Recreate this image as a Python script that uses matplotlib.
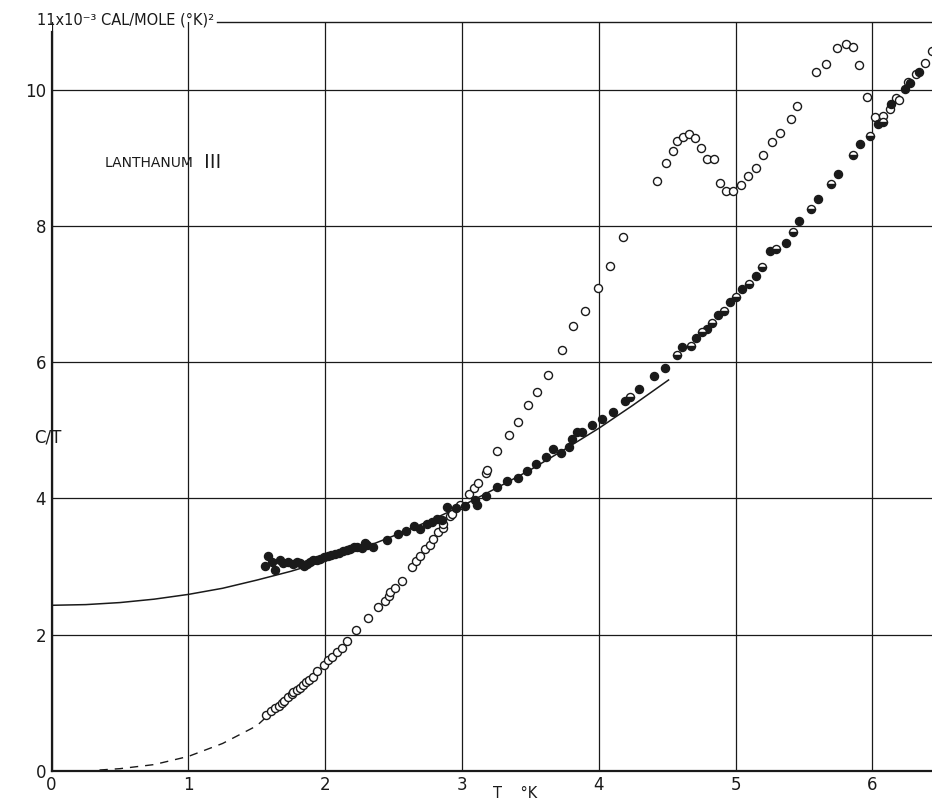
import matplotlib
matplotlib.use("Agg")
import matplotlib.pyplot as plt

# ---- data ----
open_T = [1.566, 1.602, 1.634, 1.659, 1.683, 1.700, 1.731, 1.755, 1.768, 1.792, 1.817,
          1.841, 1.861, 1.883, 1.910, 1.939, 1.993, 2.024, 2.048, 2.085, 2.121, 2.163,
          2.226, 2.313, 2.384, 2.437, 2.469, 2.474, 2.509, 2.565, 2.631, 2.667, 2.692,
          2.729, 2.765, 2.790, 2.826, 2.858, 2.863, 2.912, 2.924, 2.985, 3.050, 3.087,
          3.119, 3.175, 3.181, 3.258, 3.346, 3.406, 3.485, 3.545, 3.630, 3.728, 3.814,
          3.900, 3.992, 4.083, 4.179, 4.423, 4.488, 4.544, 4.575, 4.617, 4.661, 4.702,
          4.747, 4.788, 4.840, 4.883, 4.932, 4.984, 5.038, 5.094, 5.150, 5.203, 5.263,
          5.324, 5.404, 5.448, 5.591, 5.660, 5.738, 5.804, 5.858, 5.904, 5.958, 6.019,
          6.075, 6.129, 6.171, 6.195, 6.259, 6.320, 6.384, 6.436]
open_C = [0.82, 0.88, 0.92, 0.95, 0.99, 1.03, 1.08, 1.13, 1.15, 1.19, 1.22,
          1.26, 1.30, 1.33, 1.38, 1.46, 1.56, 1.62, 1.67, 1.74, 1.80, 1.91,
          2.06, 2.25, 2.41, 2.50, 2.57, 2.62, 2.69, 2.79, 2.99, 3.08, 3.16,
          3.26, 3.32, 3.41, 3.50, 3.57, 3.63, 3.74, 3.77, 3.91, 4.07, 4.16,
          4.23, 4.38, 4.42, 4.69, 4.93, 5.12, 5.37, 5.56, 5.81, 6.18, 6.54,
          6.76, 7.09, 7.42, 7.84, 8.66, 8.93, 9.10, 9.25, 9.31, 9.36, 9.30,
          9.15, 8.98, 8.99, 8.63, 8.52, 8.51, 8.60, 8.73, 8.86, 9.05, 9.24,
          9.37, 9.57, 9.77, 10.27, 10.38, 10.61, 10.68, 10.63, 10.37, 9.90, 9.60,
          9.62, 9.72, 9.88, 9.85, 10.12, 10.24, 10.39, 10.57]

filled_T = [1.561, 1.585, 1.610, 1.634, 1.666, 1.695, 1.731, 1.763, 1.792, 1.817, 1.846,
            1.865, 1.890, 1.914, 1.939, 1.963, 1.993, 2.017, 2.041, 2.072, 2.104, 2.133,
            2.163, 2.182, 2.212, 2.236, 2.268, 2.292, 2.309, 2.353, 2.450, 2.534, 2.594,
            2.648, 2.692, 2.741, 2.778, 2.814, 2.856, 2.888, 2.956, 3.022, 3.095, 3.108,
            3.175, 3.254, 3.332, 3.412, 3.474, 3.538, 3.613, 3.667, 3.723, 3.782, 3.806,
            3.838, 3.875, 3.949, 4.021, 4.102, 4.192, 4.297, 4.404, 4.483, 4.605, 4.710,
            4.788, 4.869, 4.959, 5.050, 5.148, 5.252, 5.366, 5.466, 5.599, 5.750, 5.909,
            6.039, 6.137, 6.239, 6.276, 6.341]
filled_C = [3.01, 3.15, 3.06, 2.95, 3.09, 3.05, 3.06, 3.04, 3.06, 3.05, 3.01,
            3.04, 3.06, 3.09, 3.10, 3.11, 3.14, 3.16, 3.17, 3.19, 3.20, 3.23,
            3.24, 3.25, 3.28, 3.29, 3.27, 3.34, 3.31, 3.28, 3.39, 3.47, 3.52,
            3.59, 3.55, 3.62, 3.65, 3.70, 3.69, 3.87, 3.86, 3.89, 3.97, 3.91,
            4.04, 4.17, 4.25, 4.30, 4.40, 4.50, 4.61, 4.72, 4.66, 4.75, 4.87,
            4.98, 4.98, 5.08, 5.17, 5.27, 5.43, 5.61, 5.80, 5.91, 6.23, 6.36,
            6.49, 6.69, 6.89, 7.07, 7.27, 7.64, 7.75, 8.07, 8.40, 8.76, 9.20,
            9.50, 9.79, 10.02, 10.10, 10.27]

half_T = [4.229, 4.575, 4.673, 4.752, 4.830, 4.915, 5.003, 5.099, 5.195, 5.295, 5.416,
          5.549, 5.696, 5.855, 5.982, 6.080]
half_C = [5.49, 6.10, 6.24, 6.45, 6.57, 6.76, 6.96, 7.15, 7.40, 7.67, 7.91,
          8.25, 8.62, 9.04, 9.32, 9.53]

# smooth solid curve
curve_T = [0, 0.25, 0.5, 0.75, 1.0, 1.25, 1.5, 1.75, 2.0, 2.25, 2.5, 2.75, 3.0,
           3.25, 3.5, 3.75, 4.0, 4.25, 4.51]
curve_C = [2.43, 2.44, 2.47, 2.52, 2.59, 2.68, 2.80, 2.93, 3.08, 3.25, 3.45, 3.66, 3.89,
           4.15, 4.42, 4.72, 5.03, 5.37, 5.74]

# dashed extrapolation at low T
dash_T = [0.35, 0.5, 0.75, 1.0, 1.25, 1.5, 1.57]
dash_C = [0.01, 0.03, 0.09, 0.21, 0.40, 0.66, 0.79]

x_ticks = [0, 1, 2, 3, 4, 5, 6]
y_ticks = [0, 2, 4, 6, 8, 10]

# ---- figure ----
W, H = 932, 800
fig = plt.figure(figsize=(W / 100, H / 100), dpi=100)
x0_px, unit_x = 51.6, 136.8
y0_px, unit_y = 770.7, 68.07
xmax = (W - x0_px) / unit_x
ymax = 11
ax = fig.add_axes([x0_px / W, 1 - y0_px / H, (W - x0_px) / W, ymax * unit_y / H])
ax.set_xlim(0, xmax)
ax.set_ylim(0, ymax)

ink = "#1a1a1a"
ax.set_xticks(x_ticks)
ax.set_yticks(y_ticks)
ax.set_xticklabels([str(v) for v in x_ticks])
ax.set_yticklabels([str(v) for v in y_ticks])
ax.tick_params(length=0, labelsize=12, colors=ink, pad=4)
ax.grid(True, color=ink, lw=0.9)
ax.set_axisbelow(True)
for s in ("top", "right"):
    ax.spines[s].set_visible(False)
for s in ("left", "bottom"):
    ax.spines[s].set_color(ink)
    ax.spines[s].set_linewidth(1.6)
ax.spines["left"].set_bounds(0, 10.85)
ax.axhline(ymax, xmin=(217 - x0_px) / (W - x0_px), xmax=1, color=ink, lw=1.0, clip_on=False)

ax.plot(curve_T, curve_C, color=ink, lw=1.1, zorder=3)
ax.plot(dash_T, dash_C, color=ink, lw=1.0, ls=(0, (6, 5)), zorder=3)

ax.plot(open_T, open_C, ls="none", marker="o", ms=5.8, mfc="white", mec=ink, mew=1.0, zorder=4)
ax.plot(filled_T, filled_C, ls="none", marker="o", ms=5.8, mfc=ink, mec=ink, mew=1.0, zorder=4)
ax.plot(half_T, half_C, ls="none", marker="o", ms=5.8, fillstyle="bottom", mfc=ink,
        mfcalt="white", mec=ink, mew=1.0, zorder=4)

# ---- text ----
fig.text(37 / W, 1 - 20 / H, "11x10\u207b\u00b3 CAL/MOLE (\u00b0K)\u00b2", fontsize=10.5,
         color=ink, ha="left", va="center")
fig.text(48 / W, 1 - 437 / H, "C/T", fontsize=12, color=ink, ha="center", va="center")
fig.text(515 / W, 1 - 793 / H, "T    \u00b0K", fontsize=10.5, color=ink, ha="center", va="center")
ax.text(0.39, 8.93, "LANTHANUM", fontsize=10, color=ink, ha="left", va="center")
ax.text(1.11, 8.93, "\u2162", fontsize=14, color=ink, ha="left", va="center",
        family=["Noto Sans CJK JP", "DejaVu Sans"])

fig.savefig("out.png", dpi=100)
